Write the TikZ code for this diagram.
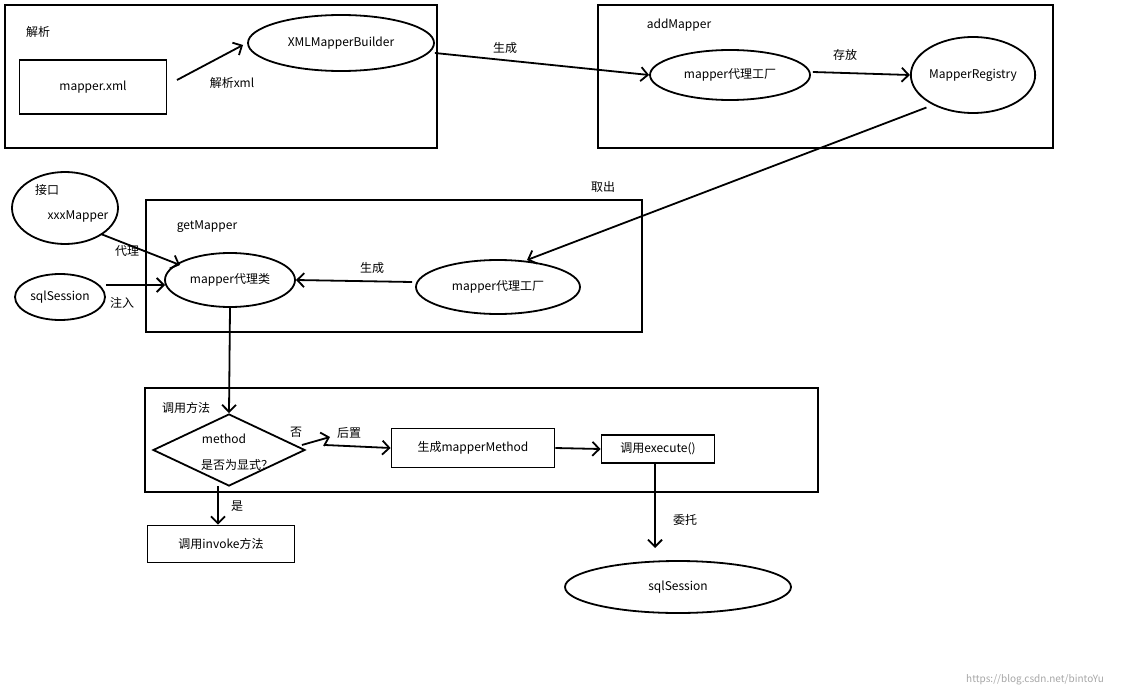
\documentclass[tikz,border=0pt]{standalone}
\usepackage{fontspec}
\setmainfont{Noto Sans CJK SC}
\usetikzlibrary{arrows.meta,shapes.geometric}
\begin{document}
\begin{tikzpicture}[x=1pt,y=-1pt,
  every node/.style={font=\fontsize{12}{14}\selectfont},
  box/.style={draw,line width=1.8pt},
  el/.style={draw,ellipse,line width=1.8pt,inner sep=0pt},
  rb/.style={draw,line width=1.8pt,inner sep=0pt},
  arr/.style={line width=1.8pt,-{Straight Barb[length=7pt,width=14pt]}},
  lbl/.style={inner sep=1pt}]
\useasboundingbox (0,0) rectangle (1142,698);
% boxes
\draw[box] (5,5) rectangle (437,148);
\node[lbl] (t1) at (38,32) {解析};
\draw[box] (598,5) rectangle (1053,148);
\node[lbl] (t2) at (679,25) {addMapper};
\draw[box] (146,200) rectangle (642,332);
\node[lbl] (t3) at (207,227) {getMapper};
\draw[box] (145,388) rectangle (818,492);
\node[lbl] (t4) at (186,408) {调用方法};
% nodes
\node[rb,minimum width=147pt,minimum height=54pt] (mx) at (93,87) {mapper.xml};
\node[el,minimum width=186pt,minimum height=56pt] (xb) at (341,43) {XMLMapperBuilder};
\node[el,minimum width=160pt,minimum height=50pt] (f1) at (730,75) {mapper代理工厂};
\node[el,minimum width=116pt,minimum height=76pt] (mr) at (973,75) {MapperRegistry};
\node[el,minimum width=106pt,minimum height=72pt] (xm) at (65,208) {};
\node[lbl] at (47,190) {接口};
\node[lbl] at (78,216) {xxxMapper};
\node[el,minimum width=90pt,minimum height=46pt] (ss1) at (60,297) {sqlSession};
\node[el,minimum width=130pt,minimum height=54pt] (pc) at (230,280) {mapper代理类};
\node[el,minimum width=164pt,minimum height=54pt] (f2) at (498,287) {mapper代理工厂};
\node[draw,diamond,aspect=2.1,line width=1.8pt,minimum width=152pt,minimum height=72pt,inner sep=0pt] (dm) at (229,450) {};
\node[lbl] at (224,439) {method};
\node[lbl] at (237,465) {是否为显式？};
\node[rb,minimum width=163pt,minimum height=39pt] (gm) at (473,448) {生成mapperMethod};
\node[rb,minimum width=113pt,minimum height=28pt] (ex) at (658,449) {调用execute()};
\node[el,minimum width=226pt,minimum height=52pt] (ss2) at (678,587) {sqlSession};
\node[rb,minimum width=147pt,minimum height=37pt] (inv) at (221,544) {调用invoke方法};
% connectors
\coordinate (a1) at (177,80);
\draw[arr] (a1) -- (243,45);
\node[lbl] at (232,83) {解析xml};
\draw[arr] (xb.east) ++(0,10) -- (f1.west);
\node[lbl] at (505,48) {生成};
\draw[arr] (f1.east) ++(2,-3) -- (mr.west);
\node[lbl] at (845,55) {存放};
\draw[arr] (mr.south west) ++(-2,5) -- (527,260);
\node[lbl] at (603,187) {取出};
\draw[arr] (f2.west) ++(-3,-5) -- (pc.east);
\node[lbl] at (372,268) {生成};
\draw[arr] (xm.south east) ++(-2,0) -- (180,265);
\node[lbl] at (127,251) {代理};
\draw[arr] (ss1.east) ++(0,-12) -- (165,285);
\node[lbl] at (122,303) {注入};
\draw[arr] (pc.south) -- (dm.north);
\draw[arr] (dm.east) ++(-4,-5) -- (330,437);
\node[lbl] at (296,432) {否};
\coordinate (h1) at (325,445);
\draw[arr] (h1) -- (gm.west);
\node[lbl] at (349,433) {后置};
\draw[arr] (gm.east) -- (ex.west);
\draw[arr] (ex.south) ++(-3,0) -- (655,548);
\node[lbl] at (685,520) {委托};
\draw[arr] (218,486) -- (inv.north -| 218,0);
\node[lbl] at (237,506) {是};
\node[text=gray!70,font=\fontsize{10}{11}\selectfont] at (1035,680) {https://blog.csdn.net/bintoYu};
\end{tikzpicture}
\end{document}
